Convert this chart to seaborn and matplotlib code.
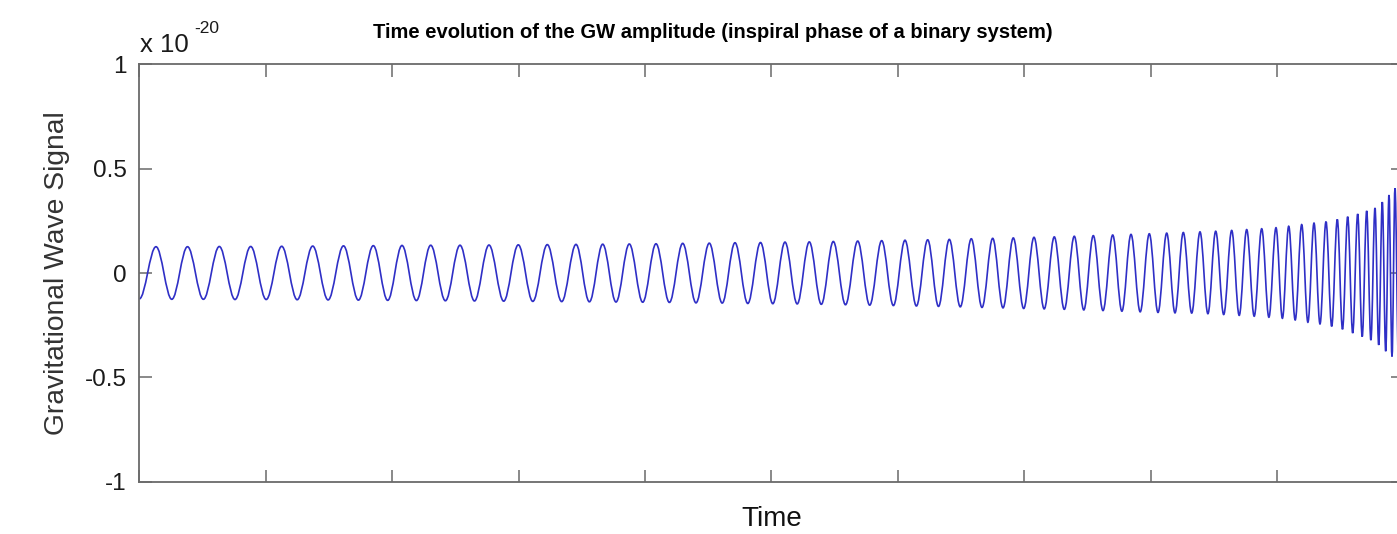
import matplotlib
matplotlib.use("Agg")
import matplotlib.pyplot as plt
from matplotlib.path import Path
from matplotlib.patches import PathPatch
import seaborn as sns
import numpy as np
import pandas as pd

# ---- data (time in arbitrary units, signal in units of 1e-20) ----
# extrema of the chirp waveform: crests and troughs
peak_time = [16.7, 48.2, 80.0, 111.4, 142.4, 173.4, 204.2,
             234.0, 262.7, 291.4, 320.7, 349.7, 379.0, 408.0,
             436.7, 463.4, 490.0, 516.7, 543.4, 570.0, 595.7, 621.2,
             645.7, 670.0, 694.0, 718.4, 742.4, 765.7, 788.4, 810.0, 832.0,
             853.4, 874.0, 894.7, 915.0, 935.0, 954.0, 973.4, 991.7, 1010.0, 1027.4, 1044.0,
             1060.7, 1076.4, 1092.4, 1107.4, 1122.4, 1136.7, 1149.4, 1162.4, 1174.7,
             1186.7, 1198.0, 1208.4, 1218.4, 1227.4, 1235.7, 1243.0, 1249.7, 1255.7]
peak_value = [0.126, 0.126, 0.127, 0.127, 0.128, 0.129, 0.130,
              0.131, 0.132, 0.133, 0.133, 0.134, 0.135, 0.136,
              0.137, 0.138, 0.139, 0.140, 0.142, 0.143, 0.145, 0.146,
              0.148, 0.149, 0.151, 0.153, 0.155, 0.157, 0.159, 0.161, 0.164,
              0.166, 0.168, 0.171, 0.173, 0.176, 0.179, 0.182, 0.185, 0.188, 0.191, 0.194,
              0.197, 0.200, 0.204, 0.208, 0.212, 0.217, 0.224, 0.232, 0.239,
              0.246, 0.257, 0.270, 0.283, 0.298, 0.312, 0.340, 0.374, 0.406]
trough_time = [0.0,
               32.5, 64.1, 95.7, 126.9, 157.9, 188.8,
               219.1, 248.4, 277.1, 306.1, 335.2, 364.4, 393.5,
               422.4, 450.1, 476.7, 503.4, 530.1, 556.7, 582.9, 608.5,
               633.5, 657.9, 682.0, 706.2, 730.4, 754.1, 777.1, 799.2, 821.0,
               842.7, 863.7, 884.4, 904.9, 925.0, 944.5, 963.7, 982.6, 1000.9, 1018.7, 1035.7,
               1052.4, 1068.6, 1084.4, 1099.9, 1114.9, 1129.6,
               1143.1, 1155.9, 1168.6, 1180.7, 1192.4, 1203.2, 1213.4, 1222.9, 1231.6, 1239.4, 1246.4, 1252.7,
               1259.2]
trough_value = [-0.124,
                -0.126, -0.126, -0.127, -0.127, -0.128, -0.129,
                -0.130, -0.131, -0.132, -0.133, -0.134, -0.135, -0.136,
                -0.137, -0.138, -0.139, -0.140, -0.141, -0.143, -0.144, -0.146,
                -0.147, -0.148, -0.150, -0.152, -0.154, -0.156, -0.158, -0.160, -0.162,
                -0.165, -0.167, -0.170, -0.172, -0.174, -0.177, -0.180, -0.183, -0.186, -0.189, -0.191,
                -0.192, -0.195, -0.199, -0.203, -0.207, -0.212,
                -0.217, -0.225, -0.236, -0.244, -0.256, -0.270, -0.288, -0.305, -0.322, -0.345, -0.375, -0.400,
                -0.420]

y_ticks = [-1, -0.5, 0, 0.5, 1]
y_tick_labels = ["-1", "-0.5", "0", "0.5", "1"]
time_span = 1264.0
n_time_ticks = 11

title_text = "Time evolution of the GW amplitude (inspiral phase of a binary system)"
x_label = "Time"
y_label = "Gravitational Wave Signal"
scale_text = "x 10"
scale_exp = "-20"

df = pd.concat([
    pd.DataFrame({"time": peak_time, "signal": peak_value}),
    pd.DataFrame({"time": trough_time, "signal": trough_value}),
]).sort_values("time").reset_index(drop=True)

# ---- style ----
sns.set_theme(style="white")
plt.rcParams["font.family"] = ["Liberation Sans", "DejaVu Sans"]
plt.rcParams["axes.unicode_minus"] = False

W, H = 1397, 534
fig = plt.figure(figsize=(W / 100, H / 100), dpi=100)
fig.patch.set_facecolor("white")

ax_left, ax_right = 139.3, 139.3 + 1264.0
ax_top, ax_bottom = 64.3, 481.7
ax = fig.add_axes([ax_left / W, (H - ax_bottom) / H,
                   (ax_right - ax_left) / W, (ax_bottom - ax_top) / H])
ax.set_facecolor("white")

line_color = "#2f2fc6"
sns.lineplot(data=df, x="time", y="signal", ax=ax, sort=True, estimator=None,
             color=line_color, linewidth=1.2)

# render the seaborn line through its extrema as a smooth wave
# (each crest/trough joined with horizontal tangents)
ln = ax.lines[-1]
xy = ln.get_xydata()
ln.remove()
k = 1 - 2 / np.pi
verts = [tuple(xy[0])]
codes = [Path.MOVETO]
for (t0, v0), (t1, v1) in zip(xy[:-1], xy[1:]):
    d = t1 - t0
    verts += [(t0 + k * d, v0), (t1 - k * d, v1), (t1, v1)]
    codes += [Path.CURVE4] * 3
ax.add_patch(PathPatch(Path(verts, codes), facecolor="none", edgecolor=line_color,
                       linewidth=1.2, transform=ax.transData))

ax.set_xlim(0, time_span)
ax.set_ylim(-1, 1)
ax.set_xticks(np.linspace(0, time_span, n_time_ticks))
ax.set_xticklabels([])
ax.set_yticks(y_ticks)
ax.set_yticklabels(y_tick_labels)
ax.set_xlabel("")
ax.set_ylabel("")

spine_col = "#6a6a6a"
for s in ax.spines.values():
    s.set_visible(True)
    s.set_color(spine_col)
    s.set_linewidth(1.3)

ax.tick_params(axis="both", which="major", direction="in", length=9, width=1.1,
               color=spine_col, top=True, right=True, bottom=True, left=True)
ax.tick_params(axis="y", labelsize=17.5, labelcolor="#1a1a1a", pad=9)

ax.set_xlabel(x_label, fontsize=20, color="#111111")
ax.xaxis.set_label_coords(0.5, -(506 - ax_bottom) / (ax_bottom - ax_top))
ax.xaxis.label.set_va("top")
ax.set_ylabel(y_label, fontsize=20.3, color="#333333")
ax.yaxis.set_label_coords(-(139.3 - 44) / 1264.0, 0.5)
ax.yaxis.label.set_va("top")

fig.text(713 / W, (H - 33) / H, title_text, ha="center", va="center",
         fontsize=14.5, fontweight="bold", color="black")
fig.text(140 / W, (H - 51.5) / H, scale_text, ha="left", va="baseline",
         fontsize=18.5, color="#1a1a1a")
fig.text(194 / W, (H - 33) / H, scale_exp, ha="left", va="baseline",
         fontsize=12.5, color="#1a1a1a")

fig.savefig("out.png", dpi=100, facecolor="white")
